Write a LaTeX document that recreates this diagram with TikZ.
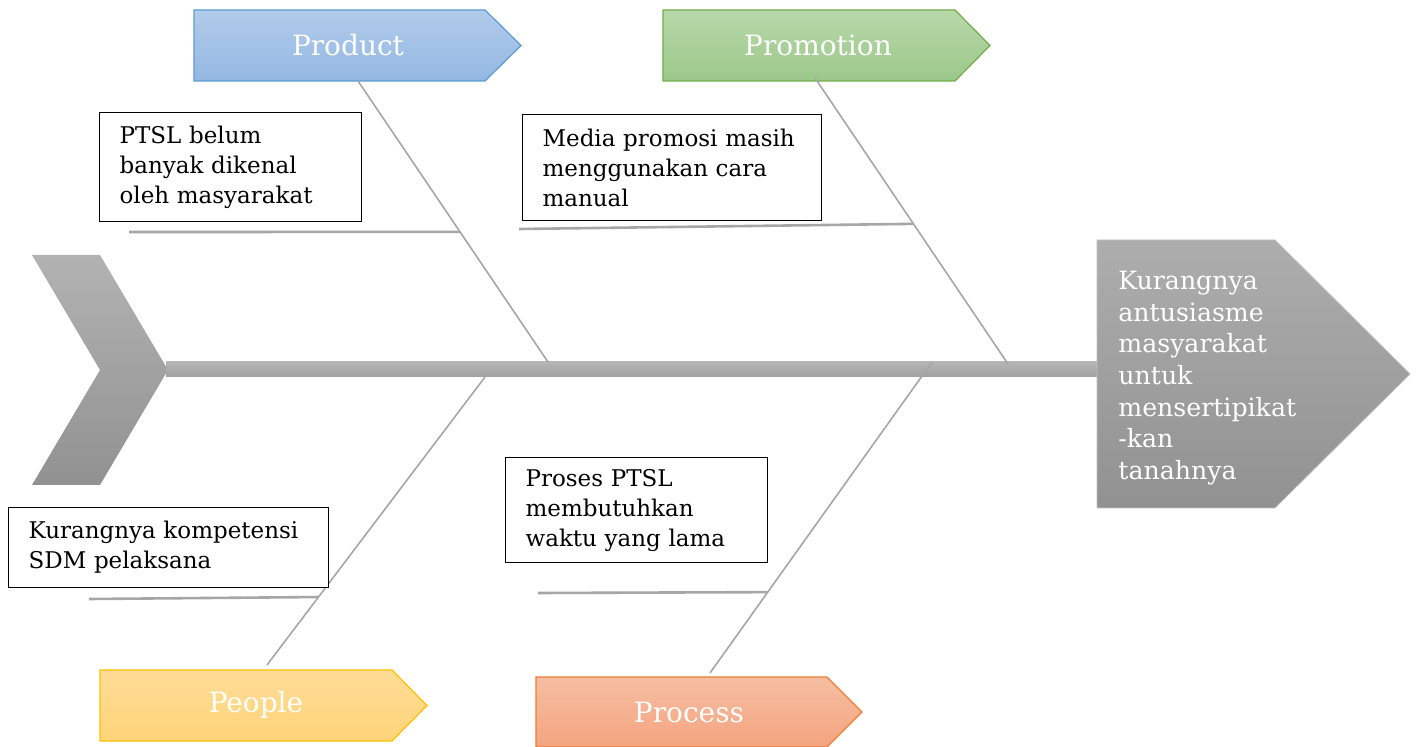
\documentclass[tikz,border=0pt]{standalone}
\usepackage{fontspec}
\setmainfont{DejaVu Serif}
\usepackage{tikz}
\usetikzlibrary{calc}

\definecolor{bonegray}{HTML}{A6A6A6}
\definecolor{prodtop}{HTML}{B1CCEB}
\definecolor{prodbot}{HTML}{94B7E2}
\definecolor{prodline}{HTML}{5B9BD5}
\definecolor{promtop}{HTML}{B8D8AA}
\definecolor{prombot}{HTML}{9CC88A}
\definecolor{promline}{HTML}{70AD47}
\definecolor{peoptop}{HTML}{FFDC96}
\definecolor{peopbot}{HTML}{FFD479}
\definecolor{peopline}{HTML}{FFC000}
\definecolor{proctop}{HTML}{F6BEA3}
\definecolor{procbot}{HTML}{F4A47F}
\definecolor{procline}{HTML}{ED7D31}

\begin{document}
\begin{tikzpicture}[x=0.5pt, y=-0.5pt,
    bone/.style={draw=bonegray, line width=0.8pt},
    twig/.style={draw=bonegray, line width=1.3pt},
    causebox/.style={draw=black, line width=0.6pt, fill=white, anchor=north west, inner xsep=10pt, inner ysep=0pt, align=left, font=\fontsize{11.5}{15}\selectfont},
    cattext/.style={text=white, font=\fontsize{14}{16}\selectfont},
    catshape/.style n args={3}{draw=#1, line width=0.6pt, top color=#2, bottom color=#3}]
    \useasboundingbox (0,0) rectangle (1417,747);

    % tail, spine and head
    \path[top color=gray!60, bottom color=gray!86] (32,255) -- (100,255) -- (168,370) -- (100,485) -- (32,485) -- (100,370) -- cycle;
    \path[top color=gray!58, bottom color=gray!74] (166,362) rectangle (1098,377);
    \path[top color=gray!64, bottom color=gray!86, draw=gray!50] (1097,240) -- (1275,240) -- (1410,374) -- (1275,508) -- (1097,508) -- cycle;
    \node[anchor=north west, inner sep=0pt, text=white, align=left, font=\fontsize{12.6}{15.8}\selectfont] (effect) at (1118,271)
        {Kurangnya\\antusiasme\\masyarakat\\untuk\\mensertipikat\\-kan\\tanahnya};

    % categories
    \path[catshape={prodline}{prodtop}{prodbot}] (194,10) -- (485,10) -- (521,45.5) -- (485,81) -- (194,81) -- cycle;
    \node[cattext] (product) at (348,45) {Product};
    \path[catshape={promline}{promtop}{prombot}] (663,10) -- (955,10) -- (990,45.5) -- (955,81) -- (663,81) -- cycle;
    \node[cattext] (promotion) at (818,45) {Promotion};
    \path[catshape={peopline}{peoptop}{peopbot}] (100,670) -- (392,670) -- (427,705.5) -- (392,741) -- (100,741) -- cycle;
    \node[cattext] (people) at (256,705) {People};
    \path[catshape={procline}{proctop}{procbot}] (536,677) -- (827,677) -- (862,712) -- (827,747) -- (536,747) -- cycle;
    \node[cattext] (process) at (689,712) {Process};

    % bones
    \coordinate (prodfoot) at (358,81);
    \coordinate (prodjoint) at (548,362);
    \coordinate (promfoot) at (815,78);
    \coordinate (promjoint) at (1008,364);
    \coordinate (peopfoot) at (267,665);
    \coordinate (peopjoint) at (485,377);
    \coordinate (procfoot) at (710,673);
    \coordinate (procjoint) at (932,362);
    \draw[bone] (prodfoot) -- (prodjoint);
    \draw[bone] (promfoot) -- (promjoint);
    \draw[bone] (peopfoot) -- (peopjoint);
    \draw[bone] (procfoot) -- (procjoint);

    % twigs
    \coordinate (prodtwig) at ($(prodfoot)!0.537!(prodjoint)$);
    \coordinate (prodend) at (129,232);
    \coordinate (promtwig) at ($(promfoot)!0.51!(promjoint)$);
    \coordinate (promend) at (519,229);
    \coordinate (peoptwig) at ($(peopfoot)!0.236!(peopjoint)$);
    \coordinate (peopend) at (89,599);
    \coordinate (proctwig) at ($(procfoot)!0.26!(procjoint)$);
    \coordinate (procend) at (538,593);
    \draw[twig] (prodend) -- (prodtwig);
    \draw[twig] (promend) -- (promtwig);
    \draw[twig] (peopend) -- (peoptwig);
    \draw[twig] (procend) -- (proctwig);

    % causes
    \node[causebox, minimum width=131pt, minimum height=54.5pt, text width=111pt] (c1) at (99,112)
        {PTSL belum\\banyak dikenal\\oleh masyarakat};
    \node[causebox, minimum width=149.5pt, minimum height=53pt, text width=129.5pt] (c2) at (522,114)
        {Media promosi masih\\menggunakan cara\\manual};
    \node[causebox, minimum width=160pt, minimum height=40pt, text width=140pt] (c3) at (8,507)
        {Kurangnya kompetensi\\SDM pelaksana};
    \node[causebox, minimum width=131pt, minimum height=52.5pt, text width=111pt] (c4) at (505,457)
        {Proses PTSL\\membutuhkan\\waktu yang lama};
\end{tikzpicture}
\end{document}
